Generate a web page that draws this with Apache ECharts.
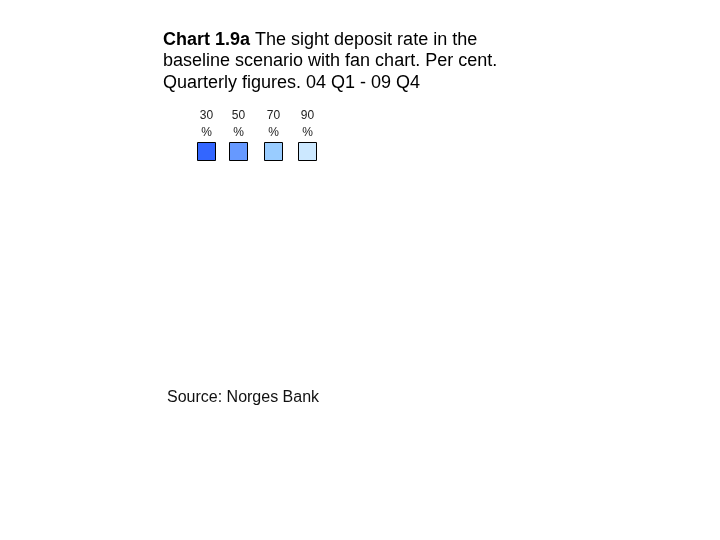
<!DOCTYPE html>
<html>
<head>
<meta charset="utf-8">
<script src="https://cdn.jsdelivr.net/npm/echarts@6/dist/echarts.min.js"></script>
<style>html,body{margin:0;padding:0;background:#fff}#c{width:720px;height:540px}</style>
</head>
<body>
<div id="c"></div>
<script>
// Data
const titleBold = 'Chart 1.9a';
const titleLines = ['The sight deposit rate in the', 'baseline scenario with fan chart. Per cent.', 'Quarterly figures. 04 Q1 - 09 Q4'];
const bandNumbers = ['30', '50', '70', '90'];
const bandUnit = '%';
const sourceText = 'Source: Norges Bank';

// Styles
const bandColors = ['#3366FF', '#6699FF', '#99CCFF', '#CCE8FF'];
const bandX = [197, 229, 264, 298];
const FONT = '"Liberation Sans", Arial, sans-serif';

const chart = echarts.init(document.getElementById('c'));
const graphics = [];
bandNumbers.forEach((n, i) => {
  const cx = bandX[i] + 9.5;
  graphics.push({
    type: 'text', x: cx, y: 116,
    style: { text: n, align: 'center', verticalAlign: 'middle', fill: '#222', font: '12px ' + FONT }
  });
  graphics.push({
    type: 'text', x: cx, y: 133,
    style: { text: bandUnit, align: 'center', verticalAlign: 'middle', fill: '#222', font: '12px ' + FONT }
  });
  graphics.push({
    type: 'rect', shape: { x: bandX[i] + 0.5, y: 142.5, width: 18, height: 18 },
    style: { fill: bandColors[i], stroke: '#000', lineWidth: 1 }
  });
});
graphics.push({
  type: 'text', x: 167, y: 398,
  style: { text: sourceText, verticalAlign: 'middle', fill: '#111', font: '16px ' + FONT }
});

chart.setOption({
  backgroundColor: '#fff',
  title: {
    left: 163, top: 29, padding: 0,
    text: '{b|' + titleBold + '} ' + titleLines.join('\n'),
    textStyle: {
      fontFamily: FONT, fontSize: 18, fontWeight: 'normal', color: '#000', lineHeight: 21.5,
      rich: { b: { fontWeight: 'bold', fontSize: 18, color: '#000', fontFamily: FONT, lineHeight: 21.5 } }
    }
  },
  graphic: graphics,
  series: []
});
</script>
</body>
</html>
